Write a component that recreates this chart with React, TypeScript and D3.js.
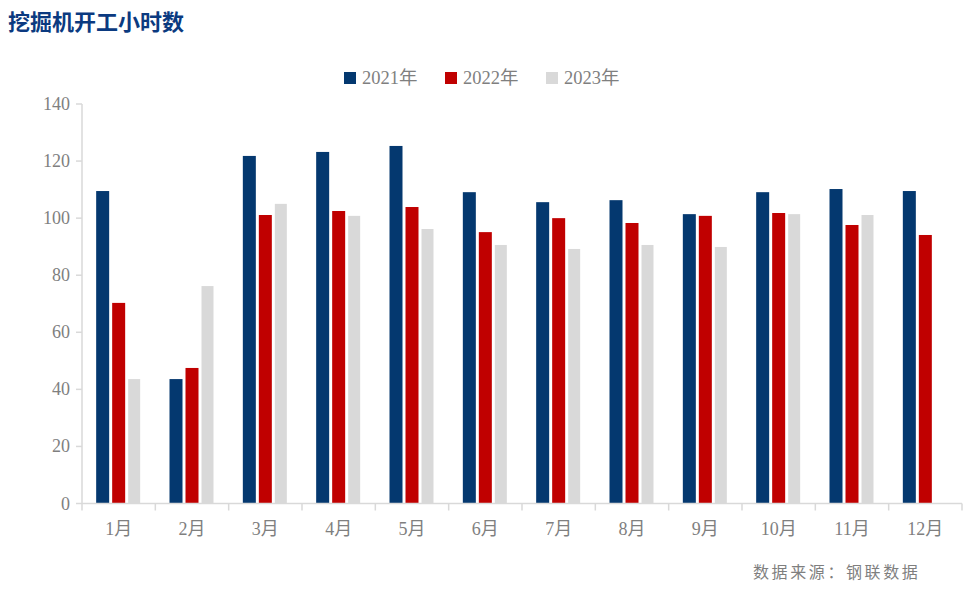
import React from "react";
import * as d3 from "d3";

const months = ["1月", "2月", "3月", "4月", "5月", "6月", "7月", "8月", "9月", "10月", "11月", "12月"];
const seriesNames = ["2021年", "2022年", "2023年"];
const s2021 = [109.5, 43.6, 121.8, 123.2, 125.3, 109.1, 105.6, 106.3, 101.4, 109.1, 110.2, 109.5];
const s2022 = [70.3, 47.5, 101.1, 102.5, 103.9, 95.1, 100.0, 98.3, 100.8, 101.8, 97.6, 94.1];
const s2023: (number | null)[] = [43.6, 76.2, 105.0, 100.8, 96.2, 90.6, 89.2, 90.6, 89.9, 101.4, 101.1, null];
const yTicks = [0, 20, 40, 60, 80, 100, 120, 140];
const colors = ["#04386f", "#c00000", "#d9d9d9"];

export default function App() {
  const W = 974, H = 604;
  const left = 82, right = 962, top = 104, bottom = 503.5;
  const x = d3.scaleBand<string>().domain(months).range([left, right]).paddingInner(0).paddingOuter(0);
  const y = d3.scaleLinear().domain([0, 140]).range([bottom, top]);
  const series = [s2021, s2022, s2023];
  const barW = 13, step = 16;
  const axisColor = "#d9d9d9";
  const textColor = "#7f7f7f";
  const serif = "'Liberation Serif', 'Times New Roman', 'Noto Sans CJK SC', serif";
  return (
    <svg width={W} height={H} style={{ position: "absolute", left: 0, top: 0, background: "#fff" }}>
      <text x={8} y={30} fontSize={22} fontWeight="bold" fill="#0b3a80" fontFamily="'Noto Sans CJK SC', sans-serif">挖掘机开工小时数</text>
      {seriesNames.map((n, i) => (
        <g key={n} transform={`translate(${344 + i * 101},0)`}>
          <rect x={0} y={72} width={12} height={12} fill={colors[i]} />
          <text x={18} y={84} fontSize={18.5} fill={textColor} fontFamily={serif}>{n}</text>
        </g>
      ))}
      {/* y axis */}
      <line x1={left} x2={left} y1={top} y2={bottom} stroke={axisColor} strokeWidth={1.5} />
      {yTicks.map((t) => (
        <g key={t}>
          <line x1={left - 6} x2={left} y1={y(t)} y2={y(t)} stroke={axisColor} strokeWidth={1.5} />
          <text x={left - 12} y={y(t) + 6} fontSize={18} textAnchor="end" fill={textColor} fontFamily={serif}>{t}</text>
        </g>
      ))}
      {/* bars */}
      {months.map((m, mi) => {
        const cx = (x(m) as number) + x.bandwidth() / 2;
        return series.map((s, si) => {
          const v = s[mi];
          if (v == null) return null;
          const bx = cx + (si - 1) * step - barW / 2;
          return <rect key={m + si} x={bx} y={y(v)} width={si === 2 ? 12 : barW} height={bottom - y(v)} fill={colors[si]} />;
        });
      })}
      {/* x axis */}
      <line x1={left} x2={right} y1={bottom} y2={bottom} stroke={axisColor} strokeWidth={1.5} />
      {months.concat([""]).map((m, i) => {
        const xx = left + i * x.bandwidth();
        return <line key={"t" + i} x1={xx} x2={xx} y1={bottom} y2={bottom + 7} stroke={axisColor} strokeWidth={1.5} />;
      })}
      {months.map((m) => (
        <text key={"l" + m} x={(x(m) as number) + x.bandwidth() / 2} y={535} fontSize={18} textAnchor="middle" fill={textColor} fontFamily={serif}>{m}</text>
      ))}
      <text x={753} y={578} fontSize={16} letterSpacing={2.6} fill={textColor} fontFamily="'Noto Sans CJK SC', sans-serif">数据来源：钢联数据</text>
    </svg>
  );
}
